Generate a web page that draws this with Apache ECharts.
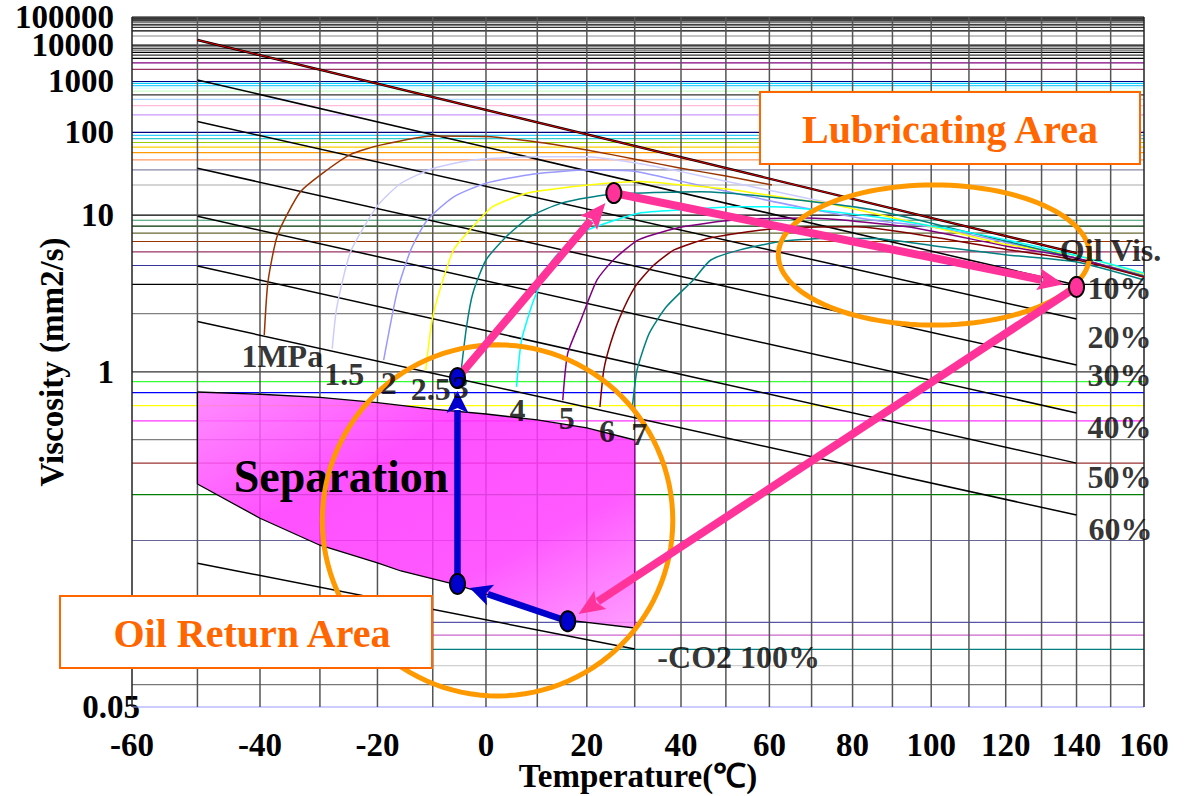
<!DOCTYPE html>
<html><head><meta charset="utf-8">
<script src="https://cdn.jsdelivr.net/npm/echarts@6/dist/echarts.min.js"></script>
<style>html,body{margin:0;padding:0;background:#fff}#c{width:1185px;height:796px}</style>
</head><body><div id="c"></div>
<script>
// ================= DATA (temperature in °C, kinematic viscosity in mm2/s) =================
const xTickTemps = [-60,-40,-20,0,20,40,60,80,100,120,140,160];
const xGridTemps = [-60,-50,-40,-30,-20,-10,0,10,20,30,40,50,60,70,80,90,100,110,120,130,140,150,160];
const yTickValues = [0.05,1,10,100,1000,10000,100000];
const yTickLabels = ['0.05','1','10','100','1000','10000','100000'];

// horizontal reference lines (viscosity values)
const hLineValues = [0.05,0.06,0.07,0.08,0.09,
  0.1,0.2,0.3,0.4,0.5,0.6,0.7,0.8,0.9,
  1,2,3,4,5,6,7,8,9,
  10,20,30,40,50,60,70,80,90,
  100,200,300,400,500,600,700,800,900,
  1000,2000,3000,4000,5000,6000,7000,8000,9000,
  10000,20000,30000,40000,50000,60000,70000,80000,90000,
  100000];

// oil and oil/CO2 concentration lines
const oilVis  = [[-50,14700],[140,4.9]];
const conc10  = [[-50,1090],[140,2.97]];
const conc20  = [[-50,152],[140,1.87]];
const conc30  = [[-50,31.3],[140,1.08]];
const conc40  = [[-50,9.76],[140,0.65]];
const conc50  = [[-50,3.97],[140,0.40]];
const conc60  = [[-50,1.81],[140,0.25]];
const co2Pure = [[-50,0.1645],[30,0.0803]];
const lineNames = ['Oil Vis.','10%','20%','30%','40%','50%','60%','-CO2 100%'];

// pressure curves (MPa)
const mpa1  = [[-39.3,1.53],[-38.7,3.1],[-37.1,6.8],[-33.3,16.9],[-28.8,29.8],[-24.7,47.5],[-19.5,64],[-9.8,88],[0,86],[10.6,70],[20,54.5],[30.9,40],[40,31.3],[50,25.3],[60.6,20]];
const mpa15 = [[-27.9,1.3],[-27.1,2.19],[-24.7,5.05],[-20.1,12],[-15.8,20.9],[-9.8,31.3],[-2.5,39.9],[10.6,44.1],[20.2,44],[30.9,36],[40,28.5],[50,22],[60,17.5],[70,14.2],[83.6,11.2]];
const mpa2  = [[-18.9,1.14],[-17.9,1.62],[-16.4,2.77],[-14,5.2],[-11,9.05],[-6.1,15],[0,20.9],[9.3,26.7],[20.2,29.8],[29.4,29],[40.4,21.8],[51.8,16.4],[67.2,11.9],[84.9,9.05],[102,7.7],[120,5.9],[140,4.5],[160,3.45]];
const mpa25 = [[-11.3,1.02],[-10.1,1.85],[-8.5,2.9],[-6.1,5.2],[-2.5,7.9],[1.3,12],[7.9,16.3],[17.4,19.2],[24.1,20.9],[30.9,21.8],[40.4,20],[51.8,17.7],[67.2,13.9],[73.6,13],[100.3,7.9],[118.6,5.8],[140,4.7],[160,3.5]];
const mpa3  = [[-4.8,0.97],[-3.7,1.69],[-2.5,2.64],[0,4.37],[3.9,6.55],[8.6,9.7],[14.7,12.9],[24.1,15.7],[29.5,16.3],[44.3,16.9],[59.5,15],[85,11.2],[110,7.1],[140,4.5],[160,3.4]];
const mpa4  = [[5.9,0.85],[6.9,1.44],[9.3,2.4],[12.7,4.2],[15.8,5.6],[20,7.4],[30.9,10.4],[40.4,11.2],[51.8,12],[60.9,12],[85,9.7],[111.1,7],[140,4.7],[160,3.55]];
const mpa5  = [[15.1,0.74],[16.1,1.23],[18.8,1.85],[22.1,3.2],[25.5,4.37],[30.9,6.2],[40.4,7.9],[51.8,9.05],[68.8,9.4],[93.8,7.9],[120.6,5.5],[140,4.5],[160,3.35]];
const mpa6  = [[22.7,0.69],[23.5,1.02],[24.9,1.38],[26.9,1.92],[30.1,2.9],[34,4],[38.6,5.2],[46.4,6.4],[60.9,7.6],[81,7.9],[102,6.4],[120.6,5.2],[140,4.37],[160,3.35]];
const mpa7  = [[29.5,0.69],[30.5,1.02],[33.1,1.56],[36.8,2.19],[42.7,3.2],[46.6,4.37],[53.4,5.2],[62.6,6],[72.7,6.35],[85.1,6.35],[102,5.5],[120.5,4.75],[140,4.23],[160,3.2]];
const pressureNames = ['1MPa','1.5','2','2.5','3','4','5','6','7'];

// separation region boundary
const sepTop    = [[-50,0.806],[-40,0.787],[-30,0.762],[-20,0.721],[-10,0.676],[0,0.643],[10,0.606],[20,0.56],[30,0.498]];
const sepBottom = [[-50,0.33],[-40,0.243],[-30,0.192],[-20,0.165],[-15.8,0.154],[-5.5,0.137],[16.1,0.102],[30,0.0955]];

// cycle state points
const stateA = [-5.4, 0.935];
const stateB = [25.6, 16.4];
const stateC = [140, 2.89];
const stateD = [16.1, 0.101];
const stateE = [-5.4, 0.138];

// highlighted areas: [T left, visc top, T right, visc bottom]
const lubricatingArea = [62.1, 20, 143.8, 1.73];
const oilReturnArea   = [-29.6, 1.36, 38.2, 0.0547];

// ================= STYLE / LAYOUT =================
const hLineColors = ['#9999ff','#777777','#d0d0d0','#008080','#cc66cc',
  '#5555aa','#666699','#008000','#993333','#808080','#ff33ff','#ffff00','#0000ff','#33ff33',
  '#333333','#808080','#000000','#333399','#993366','#993300','#666633','#003300','#339966',
  '#000000','#aaaaaa','#8888aa','#ff9966','#ff9900','#ffcc00','#99cc00','#33cccc','#33ccff',
  '#000080','#cc99ff','#ffbbdd','#aad4ff','#333333','#ccffcc','#ccffff','#33ccff','#00ccff',
  '#000080','#993366','#800080','#000000','#333333','#000000','#666666','#444444','#888888',
  '#000000','#888888','#000000','#333333','#000000','#555555','#000000','#444444','#000000',
  '#000000'];
const pressureColors = ['#993300','#ccccff','#9999ff','#ffff00','#008080','#00ffff','#800080','#800000','#008080'];
const pressureLabelOffsets = [[18,21],[12,25],[5,23],[5,19],[0,12],[1,23],[4,18],[7,24],[7,27]];
const endLabelOffsets = [[34,-3],[43,3],[43,18],[43,10],[43,14],[43,14],[44,14],[104,8]];
const FONT = "'Liberation Serif','Times New Roman',serif";
const axisFont = {fontFamily:FONT, fontWeight:'bold', fontSize:33, color:'#000'};

// ================= SCALES (Walther-type chart) =================
const tx = t => Math.log10(t + 273.15);
const ty = v => Math.log10(Math.log10(v + 1));
const X0 = tx(-60), X1 = tx(160), Y0 = ty(0.05), Y1 = ty(100000);
const conv = arr => arr.map(p => [tx(p[0]), ty(p[1])]);

const lineSets = [oilVis, conc10, conc20, conc30, conc40, conc50, conc60, co2Pure];
const pressureSets = [mpa1, mpa15, mpa2, mpa25, mpa3, mpa4, mpa5, mpa6, mpa7];

const series = [];

// horizontal colored reference lines
series.push({
  type:'custom', z:1, silent:true, clip:false,
  data: hLineValues.map(v => [X0, ty(v)]),
  renderItem: (params, api) => {
    const y = api.value(1);
    const a = api.coord([X0, y]), b = api.coord([X1, y]);
    return {type:'line', shape:{x1:a[0], y1:a[1], x2:b[0], y2:b[1]},
      style:{stroke:hLineColors[params.dataIndex], lineWidth:1.2}};
  }
});
// vertical temperature grid
series.push({
  type:'custom', z:2, silent:true, clip:false,
  data: xGridTemps.map(t => [tx(t), Y0]),
  renderItem: (params, api) => {
    const x = api.value(0);
    const a = api.coord([x, Y0]), b = api.coord([x, Y1]);
    const edge = params.dataIndex === 0 || params.dataIndex === xGridTemps.length - 1;
    return {type:'line', shape:{x1:a[0], y1:a[1], x2:b[0], y2:b[1]},
      style:{stroke: edge ? '#222' : '#555', lineWidth:1.5}};
  }
});
// separation region
series.push({
  type:'custom', z:3, silent:true, clip:false,
  data: [[tx(-50), ty(0.5)]],
  renderItem: (params, api) => {
    const top = sepTop.map(p => api.coord([tx(p[0]), ty(p[1])]));
    const bot = sepBottom.map(p => api.coord([tx(p[0]), ty(p[1])]));
    const poly = top.concat(bot.slice().reverse());
    return {type:'group', children:[
      {type:'polygon', shape:{points:poly}, style:{
        fill: new echarts.graphic.LinearGradient(0,0,1,1,[
          {offset:0, color:'rgba(255,120,255,0.85)'},
          {offset:0.35, color:'rgba(255,50,255,0.85)'},
          {offset:0.7, color:'rgba(255,60,255,0.85)'},
          {offset:1, color:'rgba(255,140,255,0.85)'}]), stroke:'none'}},
      {type:'polyline', shape:{points:top}, style:{stroke:'#000', lineWidth:1.3, fill:'none'}},
      {type:'polyline', shape:{points:bot}, style:{stroke:'#000', lineWidth:1.3, fill:'none'}},
      {type:'line', shape:{x1:top[0][0], y1:top[0][1], x2:bot[0][0], y2:bot[0][1]}, style:{stroke:'#000', lineWidth:1.3}},
      {type:'line', shape:{x1:top[top.length-1][0], y1:top[top.length-1][1], x2:bot[bot.length-1][0], y2:bot[bot.length-1][1]}, style:{stroke:'#990099', lineWidth:1.3}}
    ]};
  }
});
// oil line (black with red core) and concentration lines
lineSets.forEach((d, i) => {
  if (i === 0) {
    series.push({type:'line', z:4, silent:true, symbol:'none', data:conv(d), lineStyle:{color:'#000', width:2.4}});
    series.push({type:'line', z:4, silent:true, symbol:'none', data:conv(d), lineStyle:{color:'#e00000', width:1}});
  } else {
    series.push({type:'line', z:4, silent:true, symbol:'none', data:conv(d), lineStyle:{color:'#000', width:1.5}});
  }
});
// pressure curves
pressureSets.forEach((d, i) => {
  series.push({type:'line', z:4, silent:true, symbol:'none', smooth:0.2, data:conv(d),
    lineStyle:{color:pressureColors[i], width:1.5}});
});
// highlighted area ellipses
series.push({
  type:'custom', z:6, silent:true, clip:false,
  encode:{x:[0,2], y:[1,3]},
  data:[lubricatingArea, oilReturnArea].map(e => [tx(e[0]), ty(e[1]), tx(e[2]), ty(e[3])]),
  renderItem: (params, api) => {
    const a = api.coord([api.value(0), api.value(1)]), b = api.coord([api.value(2), api.value(3)]);
    const cx = (a[0]+b[0])/2, cy = (a[1]+b[1])/2, rx = Math.abs(b[0]-a[0])/2, ry = Math.abs(b[1]-a[1])/2;
    const pts = [];
    for (let k = 0; k < 120; k++) { const t = k/120*2*Math.PI; pts.push([cx+rx*Math.cos(t), cy+ry*Math.sin(t)]); }
    return {type:'polygon', shape:{points:pts}, style:{fill:'none', stroke:'#ff9900', lineWidth:5}};
  }
});
// arrows between states
const arrowList = [[stateA,stateB,0],[stateB,stateC,0],[stateC,stateD,0],[stateD,stateE,1],[stateE,stateA,1]];
series.push({
  type:'custom', z:7, silent:true, clip:false,
  encode:{x:[0,2], y:[1,3]},
  data: arrowList.map(a => [tx(a[0][0]), ty(a[0][1]), tx(a[1][0]), ty(a[1][1]), a[2]]),
  renderItem: (params, api) => {
    const p = api.coord([api.value(0), api.value(1)]), q = api.coord([api.value(2), api.value(3)]);
    const kind = api.value(4);
    const col = kind === 0 ? '#ff3399' : '#0000cc';
    const w = kind === 0 ? 8 : 6.5, hl = kind === 0 ? 26 : 22, hw = 22;
    const dx = q[0]-p[0], dy = q[1]-p[1], L = Math.hypot(dx, dy), ux = dx/L, uy = dy/L;
    const trim = 13;
    const tip = [q[0]-ux*trim, q[1]-uy*trim];
    const base = [tip[0]-ux*hl, tip[1]-uy*hl];
    const nx = -uy, ny = ux;
    return {type:'group', children:[
      {type:'line', shape:{x1:p[0], y1:p[1], x2:base[0]+ux*3, y2:base[1]+uy*3}, style:{stroke:col, lineWidth:w}},
      {type:'polygon', shape:{points:[tip, [base[0]+nx*hw/2, base[1]+ny*hw/2], [base[0]+ux*5, base[1]+uy*5], [base[0]-nx*hw/2, base[1]-ny*hw/2]]}, style:{fill:col}}
    ]};
  }
});
// state dots
const dotList = [[stateA,1],[stateB,0],[stateC,0],[stateD,1],[stateE,1]];
series.push({
  type:'custom', z:8, silent:true, clip:false,
  data: dotList.map(d => [tx(d[0][0]), ty(d[0][1]), d[1]]),
  renderItem: (params, api) => {
    const c = api.coord([api.value(0), api.value(1)]);
    const kind = api.value(2);
    const rx = 7.5, ry = 10, pts = [];
    for (let k = 0; k < 48; k++) { const t = k/48*2*Math.PI; pts.push([c[0]+rx*Math.cos(t), c[1]+ry*Math.sin(t)]); }
    return {type:'polygon', shape:{points:pts}, style:{fill: kind === 0 ? '#ff3399' : '#0000cc', stroke:'#000', lineWidth:2}};
  }
});
// text labels for lines and pressure curves
const labelItems = [];
lineSets.forEach((d, i) => {
  const e = d[d.length-1];
  labelItems.push({name:lineNames[i], value:[tx(e[0]), ty(e[1])], label:{offset:endLabelOffsets[i]}});
});
pressureSets.forEach((d, i) => {
  const s = d[0];
  labelItems.push({name:pressureNames[i], value:[tx(s[0]), ty(s[1])], label:{offset:pressureLabelOffsets[i]}});
});
series.push({
  type:'scatter', z:8, silent:true, clip:false, symbol:'circle', symbolSize:1,
  itemStyle:{color:'rgba(0,0,0,0)'},
  label:{show:true, position:'inside', formatter:'{b}', fontFamily:FONT, fontWeight:'bold', fontSize:32, color:'#000'},
  data: labelItems
});

// y axis label helpers
const yLabelFor = v => { const i = yTickValues.findIndex(t => Math.abs(ty(t) - v) < 1e-6); return i >= 0 ? yTickLabels[i] : ''; };
const yMainTicks = yTickValues.slice(1, yTickValues.length - 1);   // 1 ... 10000
const yTopTick = yTickValues.slice(yTickValues.length - 1);         // 100000
const yBottomTick = yTickValues.slice(0, 1);                        // 0.05
const yAxisBase = () => ({
  type:'value', min:Y0, max:Y1, position:'left',
  axisLine:{show:false}, axisTick:{show:false}, splitLine:{show:false}
});

const option = {
  animation:false,
  backgroundColor:'#fff',
  grid:{left:132, right:41, top:17, bottom:89, containLabel:false, outerBoundsMode:'none'},
  xAxis:{
    type:'value', min:X0, max:X1,
    axisLine:{show:false}, axisTick:{show:false}, splitLine:{show:false},
    axisLabel:Object.assign({customValues: xTickTemps.map(tx), margin:26, lineHeight:24, showMinLabel:true, showMaxLabel:true,
      formatter: v => String(Math.round(Math.pow(10, v) - 273.15))}, axisFont),
    name:'Temperature(℃)', nameLocation:'middle', nameGap:54, nameMoveOverlap:false,
    nameTextStyle:Object.assign({lineHeight:30}, axisFont)
  },
  yAxis:[
    Object.assign(yAxisBase(), {
      axisLabel:Object.assign({customValues: yMainTicks.map(ty), margin:18, lineHeight:22, showMinLabel:true, showMaxLabel:true, formatter:yLabelFor}, axisFont),
      name:'Viscosity (mm2/s)', nameLocation:'middle', nameGap:64, nameRotate:90, nameMoveOverlap:false,
      nameTextStyle:Object.assign({}, axisFont)
    }),
    Object.assign(yAxisBase(), {
      axisLabel:Object.assign({customValues: yTopTick.map(ty), margin:18, lineHeight:22, showMinLabel:true, showMaxLabel:true, formatter:yLabelFor}, axisFont)
    }),
    Object.assign(yAxisBase(), {
      axisLabel:Object.assign({customValues: yBottomTick.map(ty), margin:-8, lineHeight:22, showMinLabel:true, showMaxLabel:true, formatter:yLabelFor}, axisFont)
    })
  ],
  graphic:[
    {type:'text', z:5, x:341, y:476, silent:true,
      style:{text:'Separation', fill:'#000', fontFamily:FONT, fontWeight:'bold', fontSize:46, align:'center', verticalAlign:'middle'}},
    {type:'rect', z:100, silent:true, shape:{x:760, y:92, width:380, height:72}, style:{fill:'#fff', stroke:'#ff6600', lineWidth:2}},
    {type:'text', z:101, x:950, y:129, silent:true,
      style:{text:'Lubricating Area', fill:'#ff6600', fontFamily:FONT, fontWeight:'bold', fontSize:40, align:'center', verticalAlign:'middle'}},
    {type:'rect', z:100, silent:true, shape:{x:60, y:596, width:372, height:72}, style:{fill:'#fff', stroke:'#ff6600', lineWidth:2}},
    {type:'text', z:101, x:252, y:633, silent:true,
      style:{text:'Oil Return Area', fill:'#ff6600', fontFamily:FONT, fontWeight:'bold', fontSize:40, align:'center', verticalAlign:'middle'}}
  ],
  series: series
};

const chart = echarts.init(document.getElementById('c'), null, {renderer:'svg'});
chart.setOption(option);
</script>
</body></html>
